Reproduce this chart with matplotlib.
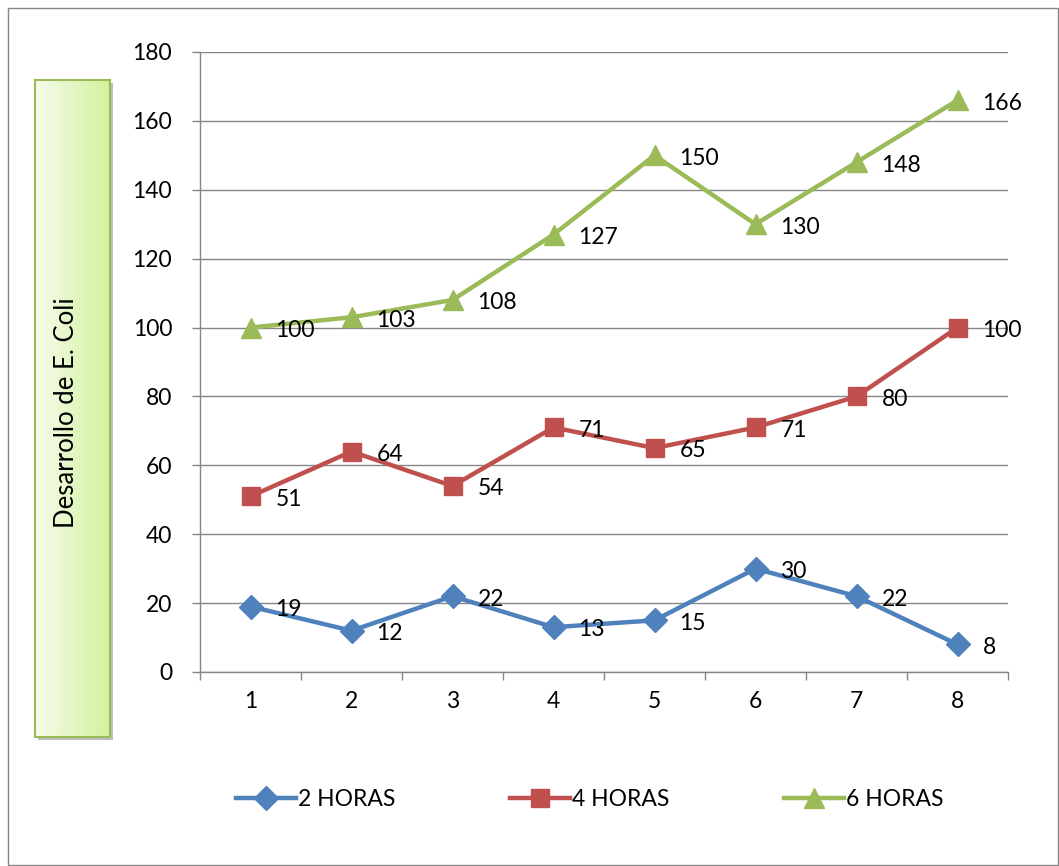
import numpy as np
import matplotlib
matplotlib.use("Agg")
import matplotlib.pyplot as plt
from matplotlib.patches import Rectangle
from matplotlib.colors import LinearSegmentedColormap
from matplotlib.lines import Line2D

plt.rcParams['font.family'] = ['Lato', 'DejaVu Sans']

categories = [1, 2, 3, 4, 5, 6, 7, 8]
series_names = ["2 HORAS", "4 HORAS", "6 HORAS"]
horas2 = [19, 12, 22, 13, 15, 30, 22, 8]
horas4 = [51, 64, 54, 71, 65, 71, 80, 100]
horas6 = [100, 103, 108, 127, 150, 130, 148, 166]
y_ticks = [0, 20, 40, 60, 80, 100, 120, 140, 160, 180]
y_title = "Desarrollo de E. Coli"

colors = ["#4F81BD", "#C0504D", "#9BBB59"]
markers = ["D", "s", "^"]
msizes = [12, 13, 14]

W, H = 1059, 866
fig = plt.figure(figsize=(W / 100, H / 100), dpi=100)
fig.patch.set_facecolor("white")

# outer border
fig.add_artist(Rectangle((8 / W, 1 - 865 / H), 1050 / W, 857 / H, transform=fig.transFigure,
                         fill=False, edgecolor="#868686", linewidth=1.0))

ax = fig.add_axes([200 / W, 1 - 672 / H, 808 / W, 620 / H])
x = np.arange(1, len(categories) + 1)
for vals, c, m, ms, name in zip([horas2, horas4, horas6], colors, markers, msizes, series_names):
    ax.plot(x, vals, color=c, linewidth=3.2, marker=m, markersize=ms, label=name, zorder=3)
    for xi, v in zip(x, vals):
        ax.annotate(str(v), (xi, v), xytext=(18, -2), textcoords="offset points",
                    ha="left", va="center", fontsize=16.5, color="black", zorder=4)

ax.set_xlim(0.5, len(categories) + 0.5)
ax.set_ylim(0, 180)
ax.set_yticks(y_ticks)
ax.set_xticks(x)
ax.set_xticklabels([str(c) for c in categories])
ax.set_xticks(np.arange(0.5, len(categories) + 1, 1), minor=True)
ax.tick_params(axis="x", which="major", length=0, pad=14, labelsize=16.5)
ax.tick_params(axis="x", which="minor", length=6, color="#868686", width=1)
ax.tick_params(axis="y", which="major", length=6, color="#868686", width=1, pad=14, labelsize=16.5)
for s in ["top", "right"]:
    ax.spines[s].set_visible(False)
for s in ["left", "bottom"]:
    ax.spines[s].set_color("#868686")
    ax.spines[s].set_linewidth(1.0)
ax.yaxis.grid(True, color="#868686", linewidth=1.0, zorder=0)
ax.set_axisbelow(True)

# y-axis title box with gradient and shadow
bx0, by0, bw, bh = 35, 80, 75, 657
shadow = Rectangle(((bx0 + 3) / W, 1 - (by0 + bh + 3) / H), bw / W, bh / H, transform=fig.transFigure,
                   facecolor="#BFBFBF", edgecolor="none", zorder=1)
fig.add_artist(shadow)
bax = fig.add_axes([bx0 / W, 1 - (by0 + bh) / H, bw / W, bh / H], zorder=2)
cmap = LinearSegmentedColormap.from_list("g", ["#F6FCEC", "#D3F29C"])
bax.imshow(np.linspace(0, 1, 256).reshape(1, -1), aspect="auto", cmap=cmap, extent=[0, 1, 0, 1])
bax.set_xticks([])
bax.set_yticks([])
for s in bax.spines.values():
    s.set_color("#9BBB59")
    s.set_linewidth(1.5)
fig.text(67 / W, 1 - 413 / H, y_title, rotation=90, ha="center", va="center",
         fontsize=18.5, zorder=5)

handles = [Line2D([0], [0], color=c, linewidth=3.2, marker=m, markersize=ms)
           for c, m, ms in zip(colors, markers, msizes)]
fig.legend(handles, series_names, loc="center", bbox_to_anchor=(590 / W, 1 - 800 / H),
           ncol=3, frameon=False, fontsize=16.5, handlelength=2.6, handletextpad=0.1,
           columnspacing=5.0)

fig.savefig("out.png", dpi=100)
